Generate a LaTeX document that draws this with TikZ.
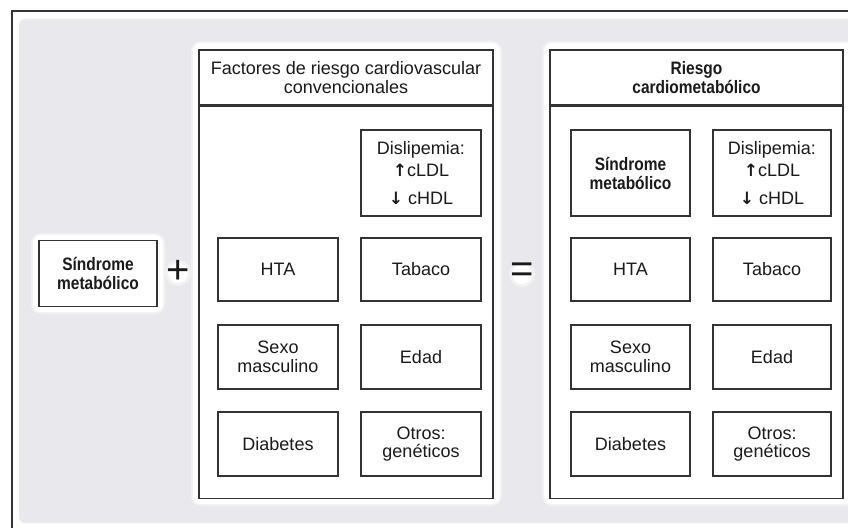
\documentclass[tikz,border=0pt]{standalone}
\usepackage{fontspec}
\setmainfont{Liberation Sans}
\newfontfamily\condbold{Liberation Sans}[FakeStretch=0.86, UprightFont=*-Bold]
\newfontfamily\arrowfont{DejaVu Sans}[UprightFont=* Bold]

\definecolor{panel}{HTML}{E9E8ED}
\definecolor{ink}{HTML}{1A1A1A}
\definecolor{rule}{HTML}{333333}

\newcommand{\upar}{{\arrowfont\fontsize{17}{17}\selectfont ↑}}
\newcommand{\dnar}{{\arrowfont\fontsize{17}{17}\selectfont ↓}}

\tikzset{
  card/.style={draw=rule, line width=1.4pt, fill=white, inner sep=0pt,
    align=center, text=ink, font=\fontsize{18}{18.5}\selectfont},
  boldtext/.style={font=\condbold\fontsize{18}{19}\selectfont},
  sign/.style={text=ink, inner sep=0pt, font=\fontsize{40}{40}\selectfont},
  halo/.style={fill=white, rounded corners=8pt},
  softhalo/.style={fill=white, opacity=0.45, rounded corners=10pt},
}

\begin{document}
\begin{tikzpicture}[x=1pt,y=-1pt]
\useasboundingbox (0,0) rectangle (848,527);
\begin{scope}
  \clip (0,0) rectangle (848,527);
  % outer frame and grey panel
  \draw[rule, line width=2pt] (11.5,545) -- (11.5,11.5) -- (870,11.5);
  \fill[panel, rounded corners=6pt] (19,19) rectangle (880,523);
  % white glows behind the groups
  \fill[softhalo] (31,233) rectangle (165,314);
  \fill[halo] (33,235) rectangle (163,312);
  \fill[softhalo] (191,41) rectangle (502,506);
  \fill[halo] (193,43) rectangle (500,504);
  \fill[softhalo] (542,41) rectangle (880,506);
  \fill[halo] (544,43) rectangle (880,504);
  \fill[white, opacity=0.45] (178,273) circle (13);
  \fill[white] (178,273) circle (10);
  \fill[white, opacity=0.45] (522,274) circle (13);
  \fill[white] (522,274) circle (10);
\end{scope}

% left term
\node[card, boldtext, minimum width=118pt, minimum height=66pt] (sm) at (98,273.5)
  {Síndrome\\metabólico};
\node[sign] (plus) at (178,272) {+};
\node[sign] (eq) at (522,273) {=};

% conventional cardiovascular risk factors
\node[card, minimum width=294pt, minimum height=55pt] (ftitle) at (346,77.5)
  {Factores de riesgo cardiovascular\\convencionales};
\node[card, minimum width=294pt, minimum height=392pt, anchor=north] (fbody) at (ftitle.south) {};

\node[card, minimum width=120pt, minimum height=86pt] (fdis) at (421,173)
  {Dislipemia:\\[4pt]\upar cLDL\\[9pt]\dnar\ cHDL};
\node[card, minimum width=120pt, minimum height=63pt] (fhta) at (278,269.5) {HTA};
\node[card, minimum width=120pt, minimum height=63pt] (ftab) at (421,269.5) {Tabaco};
\node[card, minimum width=120pt, minimum height=64pt] (fsex) at (278,357) {Sexo\\masculino};
\node[card, minimum width=120pt, minimum height=64pt] (fedad) at (421,357) {Edad};
\node[card, minimum width=120pt, minimum height=64pt] (fdiab) at (278,444) {Diabetes};
\node[card, minimum width=120pt, minimum height=64pt] (fotros) at (421,444) {Otros:\\genéticos};

% cardiometabolic risk
\node[card, boldtext, minimum width=293pt, minimum height=55pt] (rtitle) at (696.5,77.5)
  {Riesgo\\cardiometabólico};
\node[card, minimum width=293pt, minimum height=392pt, anchor=north] (rbody) at (rtitle.south) {};

\node[card, boldtext, minimum width=119pt, minimum height=86pt] (rsm) at (630.5,173)
  {Síndrome\\metabólico};
\node[card, minimum width=118pt, minimum height=86pt] (rdis) at (772,173)
  {Dislipemia:\\[4pt]\upar cLDL\\[9pt]\dnar\ cHDL};
\node[card, minimum width=119pt, minimum height=63pt] (rhta) at (630.5,269.5) {HTA};
\node[card, minimum width=118pt, minimum height=63pt] (rtab) at (772,269.5) {Tabaco};
\node[card, minimum width=119pt, minimum height=64pt] (rsex) at (630.5,357) {Sexo\\masculino};
\node[card, minimum width=118pt, minimum height=64pt] (redad) at (772,357) {Edad};
\node[card, minimum width=119pt, minimum height=64pt] (rdiab) at (630.5,444) {Diabetes};
\node[card, minimum width=118pt, minimum height=64pt] (rotros) at (772,444) {Otros:\\genéticos};
\end{tikzpicture}
\end{document}
